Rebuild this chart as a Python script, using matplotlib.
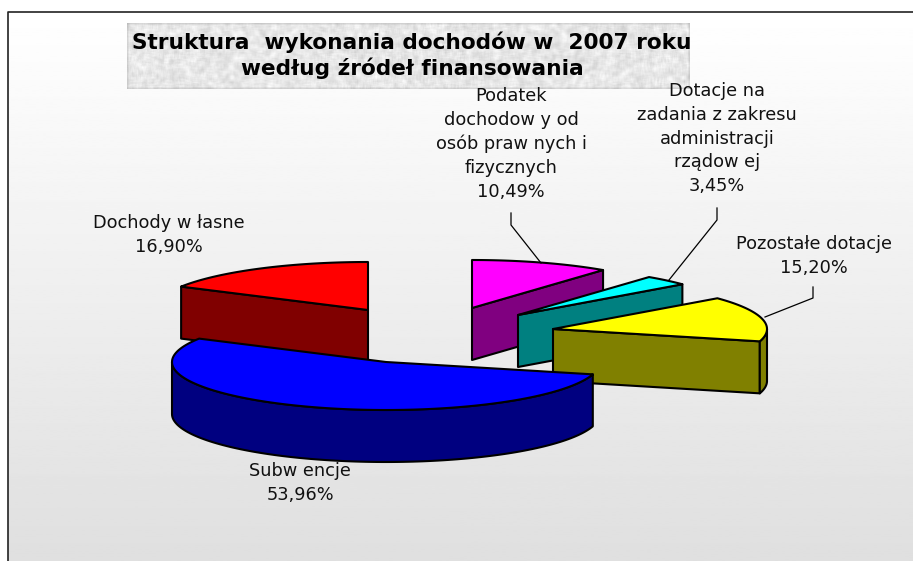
import numpy as np
import matplotlib
matplotlib.use("Agg")
import matplotlib.pyplot as plt
from matplotlib.patches import Polygon

plt.rcParams['font.family'] = ['DejaVu Sans']

categories = ["Podatek\ndochodow y od\nosób praw nych i\nfizycznych",
              "Dotacje na\nzadania z zakresu\nadministracji\nrządow ej",
              "Pozostałe dotacje", "Subw encje", "Dochody w łasne"]
values = [10.49, 3.45, 15.20, 53.96, 16.90]
value_labels = ["10,49%", "3,45%", "15,20%", "53,96%", "16,90%"]
title_lines = "Struktura  wykonania dochodów w  2007 roku\nwedług źródeł finansowania"

top_colors = ["#ff00ff", "#00ffff", "#ffff00", "#0000ff", "#ff0000"]
side_colors = ["#800080", "#008080", "#808000", "#000080", "#800000"]
apexes = [(472, 308), (518, 315), (553, 329), (386, 362), (368, 310)]
label_pos = [(511, 144), (717, 138.5), (814, 256), (300, 483), (169, 235)]
leaders = [[(511, 213), (511, 225), (541, 263)], [(717, 208), (717, 220), (669, 280)],
           [(813, 287), (813, 298), (765, 317)], None, None]
draw_order = [0, 1, 2, 4, 3]
RX, RY, DEPTH = 214, 48, 52

fig = plt.figure(figsize=(9.13, 5.61), dpi=100)
ax = fig.add_axes([0, 0, 1, 1])
ax.set_xlim(0, 913)
ax.set_ylim(561, 0)
ax.axis("off")

grad = np.linspace(1.0, 0.875, 256).reshape(-1, 1)
ax.imshow(grad, extent=(8, 913, 561, 12), cmap="gray", vmin=0, vmax=1, aspect="auto", zorder=0)

# deterministic paper-like texture behind the title
yy, xx = np.mgrid[0:68, 0:565]
h = np.modf(np.sin(xx * 12.9898 + yy * 78.233) * 43758.5453)[0] % 1.0
k = np.ones(5) / 5
h = np.apply_along_axis(lambda r: np.convolve(r, k, "same"), 1, h)
h = np.apply_along_axis(lambda c: np.convolve(c, k, "same"), 0, h)
tex = 0.90 + (h - h.mean()) * 0.45
ax.imshow(tex, extent=(127, 690, 89, 23), cmap="gray", vmin=0, vmax=1, aspect="auto", zorder=1)

ax.plot([8, 8, 913], [561, 12, 12], color="#222222", lw=1.2, zorder=2)

ax.text(412, 55.5, title_lines, ha="center", va="center", fontsize=15.6, fontweight="bold",
        linespacing=1.24, color="black", zorder=3)

def pt(apex, a, dz=0.0):
    return apex[0] + RX * np.sin(a), apex[1] - RY * np.cos(a) + dz

fractions = np.cumsum([0] + values) / np.sum(values) * 2 * np.pi
LW = 1.5
for rank, i in enumerate(draw_order):
    a0, a1 = fractions[i], fractions[i + 1]
    apex = apexes[i]
    z = 10 + rank * 3
    angles = np.linspace(a0, a1, 120)
    # the radial face that looks toward the viewer
    face_angle = a1 if a1 < np.pi else (a0 if a0 > np.pi else None)
    if face_angle is not None:
        e = pt(apex, face_angle)
        ax.add_patch(Polygon([apex, e, (e[0], e[1] + DEPTH), (apex[0], apex[1] + DEPTH)],
                             closed=True, fc=side_colors[i], ec="black", lw=LW, zorder=z,
                             joinstyle="round"))
    # outer rim facing the viewer
    lo, hi = max(a0, np.pi / 2), min(a1, 1.5 * np.pi)
    if hi > lo:
        rim = np.linspace(lo, hi, 120)
        upper = [pt(apex, a) for a in rim]
        lower = [pt(apex, a, DEPTH) for a in rim[::-1]]
        ax.add_patch(Polygon(upper + lower, closed=True, fc=side_colors[i], ec="black", lw=LW,
                             zorder=z, joinstyle="round"))
    ax.add_patch(Polygon([apex] + [pt(apex, a) for a in angles], closed=True, fc=top_colors[i],
                         ec="black", lw=LW, zorder=z + 1, joinstyle="round"))

for i in range(len(values)):
    txt = categories[i] + "\n" + value_labels[i]
    ax.text(label_pos[i][0], label_pos[i][1], txt, ha="center", va="center", fontsize=12.8,
            linespacing=1.42, color="#111111", zorder=40)
    if leaders[i]:
        xs, ys = zip(*leaders[i])
        ax.plot(xs, ys, color="black", lw=0.9, zorder=41)

fig.savefig("out.png", dpi=100)
